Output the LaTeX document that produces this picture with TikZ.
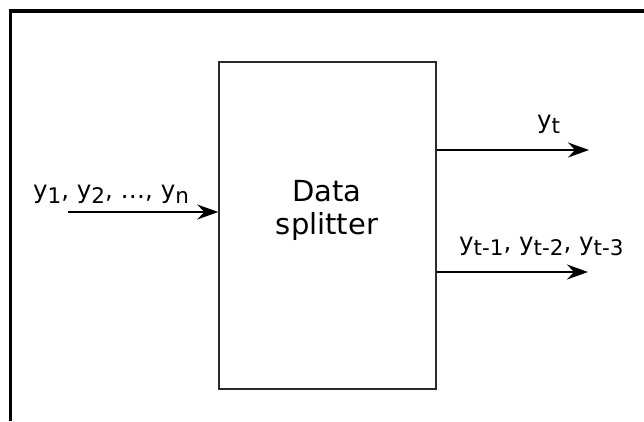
\documentclass[tikz,border=0pt]{standalone}
\usepackage{fontspec}
\setmainfont{DejaVu Sans}
\usetikzlibrary{arrows.meta}
% lowered, slightly smaller index text
\newcommand\sbx[1]{\raisebox{-5pt}{\fontsize{21.5}{21.5}\selectfont #1}}
\definecolor{linegray}{HTML}{2B2B2B}
\tikzset{
  frameline/.style={line width=3.5pt, black},
  splitbox/.style={draw=linegray, line width=1.5pt, minimum width=217pt,
    minimum height=327pt, inner sep=0pt},
  flow/.style={line width=1.5pt, black, -{Stealth[length=21pt, width=15pt, inset=7pt]}},
  sig/.style={anchor=base west, inner sep=0pt, font=\fontsize{24.5}{24.5}\selectfont}
}
\begin{document}
\begin{tikzpicture}[x=1pt, y=-1pt]
\useasboundingbox (0,0) rectangle (644,421);
% frame
\draw[frameline] (10.5,421) -- (10.5,11) -- (644,11);
% splitter block
\node[splitbox] (split) at (327.5,225.5) {};
\node[align=center, inner sep=0pt, font=\fontsize{29}{33}\selectfont] (splitTxt) at (327,210) {Data\\splitter};
% input series
\coordinate (inStart) at (68,212);
\node[sig] (inLbl) at (33,198) {y\sbx{1}, y\sbx{2}, …, y\sbx{n}};
\draw[flow] (inStart) -- (inStart -| split.west);
% outputs
\coordinate (outA) at (589,150);
\coordinate (outB) at (588,272);
\draw[flow] (outA -| split.east) -- (outA);
\draw[flow] (outB -| split.east) -- (outB);
\node[sig] (outALbl) at (537,128) {y\sbx{t}};
\node[sig] (outBLbl) at (459,250) {y\sbx{t-1}, y\sbx{t-2}, y\sbx{t-3}};
\end{tikzpicture}
\end{document}
